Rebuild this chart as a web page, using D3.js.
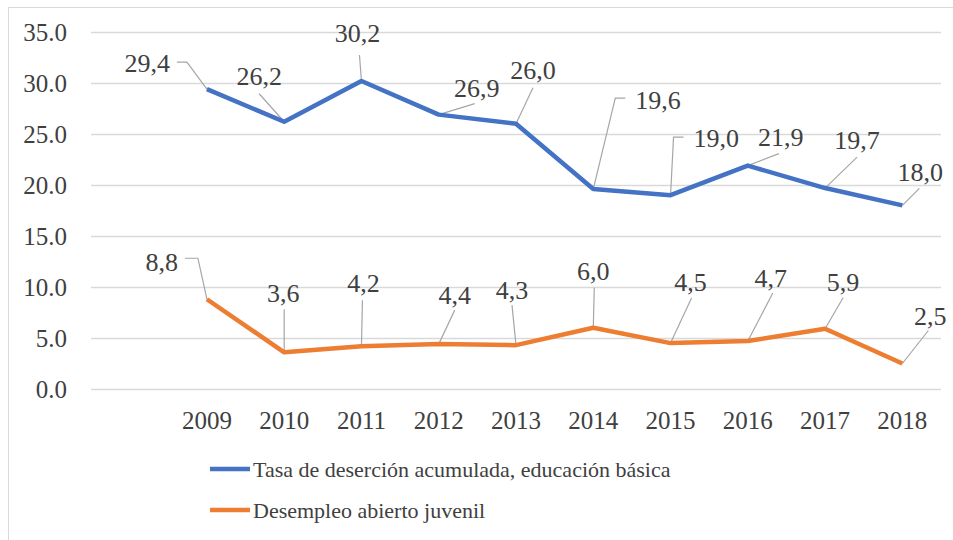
<!DOCTYPE html>
<html>
<head>
<meta charset="utf-8">
<script src="https://cdn.jsdelivr.net/npm/d3@7"></script>
<style>
  body { margin: 0; background: #fff; }
  svg text { font-family: "Liberation Serif", "Times New Roman", serif; fill: #404040; }
</style>
</head>
<body>
<svg></svg>
<script>
(function (d3) {
  'use strict';

  // data (first category is blank in the source chart)
  var years = ["", "2009", "2010", "2011", "2012", "2013", "2014", "2015", "2016", "2017", "2018"];
  var desercion = [null, 29.4, 26.2, 30.2, 26.9, 26.0, 19.6, 19.0, 21.9, 19.7, 18.0];
  var desempleo = [null, 8.8, 3.6, 4.2, 4.4, 4.3, 6.0, 4.5, 4.7, 5.9, 2.5];
  var yTicks = [0, 5, 10, 15, 20, 25, 30, 35];
  var seriesNames = ["Tasa de deserción acumulada, educación básica", "Desempleo abierto juvenil"];
  var colors = ["#4472C4", "#ED7D31"];

  // label placement relative to each point: [dx, dy, anchor, leader points...]
  var blueLabels = [null,
    [-37, -26, "end", [-20, -27], [-30, -27]],
    [-25, -46, "middle", [-25, -28]],
    [-4, -48, "middle", [-2, -26]],
    [38, -27, "middle", [36, -11]],
    [17, -54, "middle", [17, -36]],
    [42, -89, "start", [22, -91], [32, -91]],
    [23, -57, "start", [3, -58], [13, -58]],
    [33, -29, "middle", [31, -12]],
    [32, -48, "middle", [32, -31]],
    [18, -33, "middle", [17, -17]]];
  var orangeLabels = [null,
    [-29, -37, "end", [-9, -41], [-22, -41]],
    [-1, -59, "middle", [0, -43]],
    [2, -63, "middle", [1, -46]],
    [16, -49, "middle", [16, -34]],
    [-4, -55, "middle", [-4, -40]],
    [0, -57, "middle", [1, -40]],
    [20, -61, "middle", [21, -45]],
    [23, -63, "middle", [25, -48]],
    [18, -47, "middle", [18, -31]],
    [28, -48, "middle", [26, -33]]];

  var width = 953, height = 540;
  var svg = d3.select("svg").attr("width", width).attr("height", height)
    .attr("font-family", "'Liberation Serif', 'Times New Roman', serif");

  svg.append("rect")
    .attr("x", 8.5).attr("y", 7.5)
    .attr("width", 950).attr("height", 540)
    .attr("fill", "none").attr("stroke", "#d9d9d9");

  var x = d3.scaleBand().domain(years).range([91, 941]);
  var y = d3.scaleLinear().domain([0, 35]).range([389, 32]);
  var cx = function (yr) { return x(yr) + x.bandwidth() / 2; };

  // grid
  svg.append("g").selectAll("line")
    .data(yTicks)
    .enter().append("line")
      .attr("x1", 91).attr("x2", 941)
      .attr("y1", function (d) { return Math.round(y(d)) + 0.5; })
      .attr("y2", function (d) { return Math.round(y(d)) + 0.5; })
      .attr("stroke", "#d9d9d9").attr("stroke-width", 1.3);

  // y axis labels
  svg.append("g").selectAll("text")
    .data(yTicks)
    .enter().append("text")
      .attr("x", 67)
      .attr("y", function (d) { return y(d) + 8.5; })
      .attr("text-anchor", "end")
      .attr("font-size", 25)
      .text(function (d) { return d3.format(".1f")(d); });

  // x axis labels
  svg.append("g").selectAll("text")
    .data(years.filter(function (d) { return d !== ""; }))
    .enter().append("text")
      .attr("x", cx)
      .attr("y", 429)
      .attr("text-anchor", "middle")
      .attr("font-size", 25)
      .text(function (d) { return d; });

  var fmt = function (v) { return d3.format(".1f")(v).replace(".", ","); };

  function drawSeries(values, color, labels) {
    var pts = years.map(function (yr, i) { return { yr: yr, v: values[i], lab: labels[i] }; })
      .filter(function (d) { return d.v !== null; });

    var line = d3.line()
      .x(function (d) { return cx(d.yr); })
      .y(function (d) { return y(d.v); });

    // leader lines
    svg.append("g").selectAll("path")
      .data(pts)
      .enter().append("path")
        .attr("fill", "none")
        .attr("stroke", "#a6a6a6")
        .attr("stroke-width", 1.2)
        .attr("d", function (d) {
          var px = cx(d.yr), py = y(d.v);
          var s = "M" + px + "," + py;
          d.lab.slice(3).forEach(function (o) { s += "L" + (px + o[0]) + "," + (py + o[1]); });
          return s;
        });

    svg.append("path")
      .datum(pts)
      .attr("fill", "none")
      .attr("stroke", color)
      .attr("stroke-width", 4.5)
      .attr("stroke-linejoin", "round")
      .attr("d", line);

    svg.append("g").selectAll("text")
      .data(pts)
      .enter().append("text")
        .attr("x", function (d) { return cx(d.yr) + d.lab[0]; })
        .attr("y", function (d) { return y(d.v) + d.lab[1] + 9; })
        .attr("text-anchor", function (d) { return d.lab[2]; })
        .attr("font-size", 26)
        .text(function (d) { return fmt(d.v); });
  }

  drawSeries(desercion, colors[0], blueLabels);
  drawSeries(desempleo, colors[1], orangeLabels);

  // legend
  var legend = svg.append("g").selectAll("g")
    .data(seriesNames)
    .enter().append("g")
      .attr("transform", function (d, i) { return "translate(210," + (469 + i * 41) + ")"; });
  legend.append("line")
    .attr("x1", 0).attr("x2", 40)
    .attr("stroke", function (d, i) { return colors[i]; })
    .attr("stroke-width", 4.5);
  legend.append("text")
    .attr("x", 43).attr("y", 8)
    .attr("font-size", 22)
    .text(function (d) { return d; });

}(d3));
</script>
</body>
</html>
